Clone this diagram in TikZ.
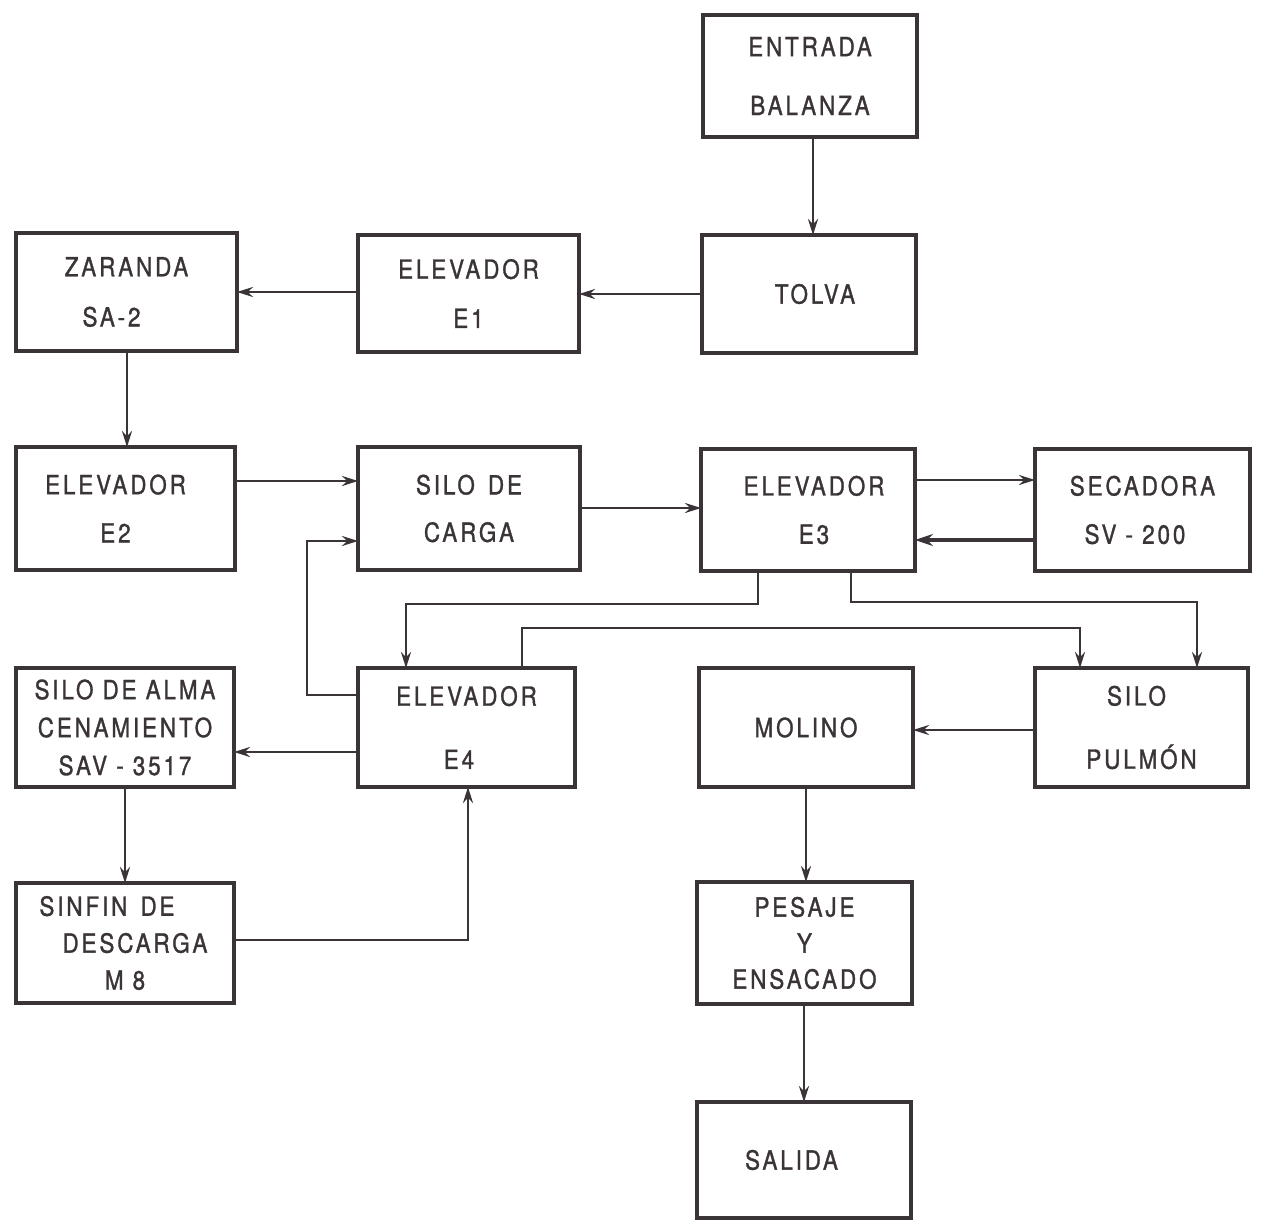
\documentclass[tikz,border=0pt]{standalone}
\usepackage{fontspec}
\setmainfont{TeX Gyre Heros}[FakeStretch=0.85, LetterSpace=11, FakeBold=1.2]
\usetikzlibrary{arrows.meta}
\definecolor{ink}{RGB}{58,52,56}
\begin{document}
\begin{tikzpicture}[x=0.02cm, y=-0.02cm,
  box/.style={draw=ink, line width=2pt, rectangle, inner sep=0pt, outer sep=0pt,
    align=center, text=ink, font=\fontsize{15}{18}\selectfont},
  arr/.style={draw=ink, line width=1.4pt, -{Stealth[length=0.32cm, width=0.2cm]}},
  thickarr/.style={draw=ink, line width=2.2pt, -{Stealth[length=0.36cm, width=0.24cm]}}
]
\useasboundingbox[fill=white] (0,0) rectangle (1265,1220);

% boxes
\node[box, minimum width=4.28cm, minimum height=2.44cm] (entrada) at (810,76) {ENTRADA\\[15.5pt]BALANZA};
\node[box, minimum width=4.28cm, minimum height=2.36cm] (tolva) at (809,294) {\hspace*{0.24cm}TOLVA};
\node[box, minimum width=4.42cm, minimum height=2.34cm] (e1) at (468.5,293.5) {ELEVADOR\\[10pt]E1};
\node[box, minimum width=4.42cm, minimum height=2.36cm] (zaranda) at (126.5,292) {ZARANDA\\[10.5pt]SA-2\hspace*{0.6cm}};
\node[box, minimum width=4.38cm, minimum height=2.46cm] (e2) at (125.5,508.5) {ELEVADOR\hspace*{0.4cm}\\[9.5pt]E2\hspace*{0.4cm}};
\node[box, minimum width=4.44cm, minimum height=2.46cm] (carga) at (469,508.5) {SILO\enspace DE\\[9pt]CARGA};
\node[box, minimum width=4.28cm, minimum height=2.44cm] (e3) at (808,510) {\hspace*{0.24cm}ELEVADOR\\[9.5pt]\hspace*{0.24cm}E3};
\node[box, minimum width=4.30cm, minimum height=2.44cm] (secadora) at (1142.5,510) {SECADORA\\[9.5pt]SV - 200\hspace*{0.3cm}};
\node[box, minimum width=4.36cm, minimum height=2.38cm] (alma) at (125,727.5) {SILO DE ALMA\\[3.6pt]CENAMIENTO\\[3.6pt]SAV - 3517};
\node[box, minimum width=4.34cm, minimum height=2.38cm] (e4) at (466.5,727.5) {ELEVADOR\\[18pt]E4\hspace*{0.3cm}};
\node[box, minimum width=4.28cm, minimum height=2.38cm] (molino) at (806,727.5) {MOLINO};
\node[box, minimum width=4.26cm, minimum height=2.38cm] (pulmon) at (1141.5,727.5) {SILO\hspace*{0.2cm}\\[18pt]PULM\'ON};
\node[box, minimum width=4.36cm, minimum height=2.40cm] (sinfin) at (125,943) {SINFIN\enspace DE\hspace*{0.72cm}\\[3pt]\hspace*{0.4cm}DESCARGA\\[3pt]M 8};
\node[box, minimum width=4.30cm, minimum height=2.44cm] (pesaje) at (804.5,943) {PESAJE\\[2.5pt]Y\\[2.5pt]ENSACADO};
\node[box, minimum width=4.28cm, minimum height=2.32cm] (salida) at (804,1160) {SALIDA\hspace*{0.5cm}};

% connectors
\draw[arr] (entrada.south -| 813,0) -- (tolva.north -| 813,0);
\draw[arr] (tolva.west) -- (tolva.west -| e1.east);
\draw[arr] (e1.west |- 0,292) -- (zaranda.east |- 0,292);
\draw[arr] (zaranda.south -| 127,0) -- (e2.north -| 127,0);
\draw[arr] (e2.east |- 0,481) -- (carga.west |- 0,481);
\draw[arr] (carga.east |- 0,508) -- (e3.west |- 0,508);
\draw[arr] (e3.east |- 0,480) -- (secadora.west |- 0,480);
\draw[thickarr] (secadora.west |- 0,540) -- (e3.east |- 0,540);
\draw[arr] (e3.south -| 758,0) -- (758,604) -| (e4.north -| 406,0);
\draw[arr] (e3.south -| 851,0) -- (851,602) -| (pulmon.north -| 1197,0);
\draw[arr] (e4.north -| 522,0) -- (522,628) -| (pulmon.north -| 1080,0);
\draw[arr] (e4.west |- 0,695) -| (307,541) -- (carga.west |- 0,541);
\draw[arr] (e4.west |- 0,752) -- (alma.east |- 0,752);
\draw[arr] (alma.south -| 125,0) -- (sinfin.north -| 125,0);
\draw[arr] (sinfin.east |- 0,940) -| (e4.south -| 468,0);
\draw[arr] (pulmon.west |- 0,730) -- (molino.east |- 0,730);
\draw[arr] (molino.south -| 806,0) -- (pesaje.north -| 806,0);
\draw[arr] (pesaje.south -| 804,0) -- (salida.north -| 804,0);
\end{tikzpicture}
\end{document}
